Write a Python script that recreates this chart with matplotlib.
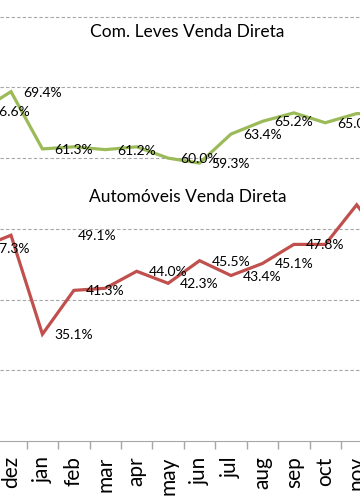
import numpy as np
import matplotlib
matplotlib.use('Agg')
import matplotlib.pyplot as plt

plt.rcParams['font.family'] = ['Lato', 'DejaVu Sans']

# categories: previous nov, dez, jan ... nov, next dez (edges cut off)
months = ['nov', 'dez', 'jan', 'feb', 'mar', 'apr', 'may', 'jun',
          'jul', 'aug', 'sep', 'oct', 'nov', 'dez']
com_leves = [66.6, 69.4, 61.3, 61.6, 61.2, 61.6, 60.0, 59.3,
             63.4, 65.2, 66.4, 65.0, 66.3, 66.2]
automoveis = [47.3, 49.1, 35.1, 41.3, 41.6, 44.0, 42.3, 45.5,
              43.4, 45.1, 47.8, 47.8, 53.4, 47.5]
# which points carry a data label
lab_com = [0, 1, 2, 4, 6, 7, 8, 9, 11]
lab_auto = [0, 1, 2, 3, 5, 6, 7, 8, 9, 10]

green, red = '#9bbb59', '#c0504d'

fig = plt.figure(figsize=(3.6, 5.04), dpi=100)
# axes deliberately wider than the figure: the picture is a crop
ax = fig.add_axes([0, 0.125, 1, 0.875])
x = np.arange(len(months))

ax.plot(x, com_leves, color=green, lw=2.3, solid_joinstyle='miter')
ax.plot(x, automoveis, color=red, lw=2.3, solid_joinstyle='miter')

for i in lab_com:
    ax.annotate('%.1f%%' % com_leves[i], (x[i], com_leves[i]),
                xytext=(12, -1), textcoords='offset pixels',
                ha='left', va='center', fontsize=10, annotation_clip=False)
for i in lab_auto:
    off = (67, -1) if i == 1 else (12, -1)   # dez label was dragged away
    ax.annotate('%.1f%%' % automoveis[i], (x[i], automoveis[i]),
                xytext=off, textcoords='offset pixels',
                ha='left', va='center', fontsize=10, annotation_clip=False)

ax.text(0.52, 0.937, 'Com. Leves Venda Direta', transform=fig.transFigure,
        ha='center', va='center', fontsize=12.5)
ax.text(0.522, 0.61, 'Automóveis Venda Direta', transform=fig.transFigure,
        ha='center', va='center', fontsize=12.5)

ax.set_yticks([30, 40, 50, 60, 70, 80])
ax.yaxis.grid(True, ls=(0, (3, 2)), color='#a6a6a6', lw=0.8)
ax.tick_params(axis='y', left=False, labelleft=False)
ax.set_xticks(x)
ax.set_xticklabels(months, rotation=90, fontsize=15)
ax.set_xticks(x[:-1] + 0.5, minor=True)
ax.tick_params(axis='x', which='major', length=0, pad=11)
ax.tick_params(axis='x', which='minor', length=6, color='#a6a6a6', width=1)
ax.set_xlim(0.65, 12.105)
ax.set_ylim(20, 82.36)
for s in ['top', 'left', 'right']:
    ax.spines[s].set_visible(False)
ax.spines['bottom'].set_color('#a6a6a6')

fig.savefig('out.png', dpi=100)
